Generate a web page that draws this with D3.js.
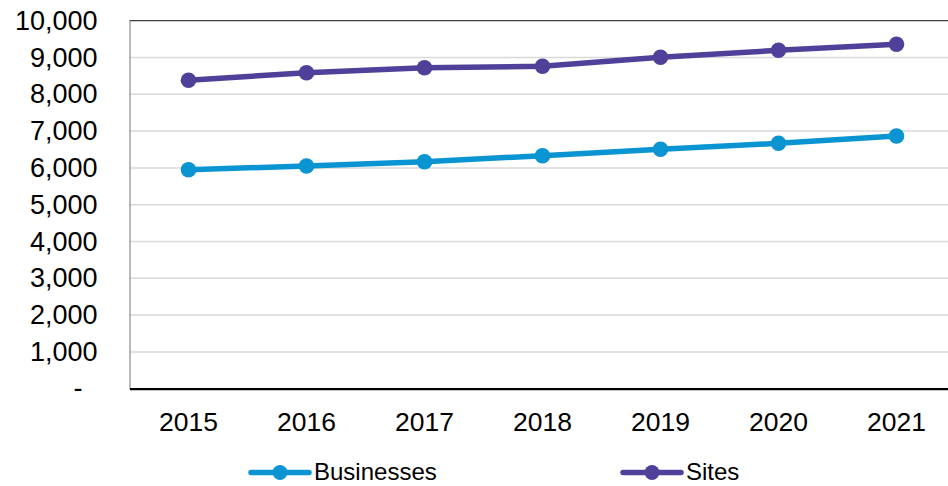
<!DOCTYPE html>
<html>
<head>
<meta charset="utf-8">
<script src="https://cdn.jsdelivr.net/npm/d3@7"></script>
<style>
  body { margin: 0; background: #fff; }
  text { font-family: "Liberation Sans", Arial, Helvetica, sans-serif; fill: #000; }
</style>
</head>
<body>
<div id="chart"></div>
<script>
// data
var years = ["2015", "2016", "2017", "2018", "2019", "2020", "2021"];
var businesses = [5951, 6052, 6168, 6332, 6505, 6668, 6867];
var sites = [8380, 8587, 8723, 8761, 9005, 9195, 9359];
var yTicks = [0, 1000, 2000, 3000, 4000, 5000, 6000, 7000, 8000, 9000, 10000];

var series = [
  { name: "Businesses", values: businesses, color: "#0a94d1" },
  { name: "Sites", values: sites, color: "#50409a" }
];

var W = 948, H = 486;
var margin = { top: 20.7, left: 129.5 };
var plotH = 368;
var step = 118;

var svg = d3.select("#chart").append("svg")
    .attr("width", W)
    .attr("height", H);

var g = svg.append("g")
    .attr("transform", "translate(" + margin.left + "," + margin.top + ")");

var x = d3.scaleBand()
    .domain(years)
    .range([0, step * years.length])
    .paddingInner(0).paddingOuter(0);

var y = d3.scaleLinear()
    .domain([0, 10000])
    .range([plotH, 0]);

// gridlines
g.selectAll(".grid")
  .data(yTicks.filter(function(d) { return d > 0 && d < 10000; }))
  .enter().append("line")
    .attr("x1", 0)
    .attr("x2", step * years.length)
    .attr("y1", function(d) { return y(d); })
    .attr("y2", function(d) { return y(d); })
    .style("stroke", "#d9d9d9")
    .style("stroke-width", 1.5);

// top border
g.append("line")
    .attr("x1", 0).attr("x2", step * years.length)
    .attr("y1", 0).attr("y2", 0)
    .style("stroke", "#404040")
    .style("stroke-width", 1.2);

// y axis
var yAxis = g.append("g")
    .call(d3.axisLeft(y).tickValues(yTicks).tickSize(0).tickPadding(32)
      .tickFormat(function(d) { return d === 0 ? "-" : d3.format(",")(d); }));
yAxis.select(".domain").style("stroke", "#8c8c8c").style("stroke-width", 1.2);
yAxis.selectAll("text")
    .style("font-size", "27px")
    .attr("transform", function(d) { return d === 0 ? "translate(-15,-1)" : null; });

// x axis
var xAxis = g.append("g")
    .attr("transform", "translate(0," + plotH + ")")
    .call(d3.axisBottom(x).tickSize(0).tickPadding(23));
xAxis.select(".domain").style("stroke", "#000").style("stroke-width", 2.2);
xAxis.selectAll("text").style("font-size", "26.5px");

// lines and markers
var line = d3.line()
    .x(function(d, i) { return x(years[i]) + x.bandwidth() / 2; })
    .y(function(d) { return y(d); });

series.forEach(function(s) {
  g.append("path")
      .datum(s.values)
      .attr("d", line)
      .style("fill", "none")
      .style("stroke", s.color)
      .style("stroke-width", 5.5)
      .style("stroke-linejoin", "round");

  g.selectAll(".pt-" + s.name)
    .data(s.values)
    .enter().append("circle")
      .attr("cx", function(d, i) { return x(years[i]) + x.bandwidth() / 2; })
      .attr("cy", function(d) { return y(d); })
      .attr("r", 7.8)
      .style("fill", s.color);
});

// legend
var legendX = [251, 623];
var legend = svg.selectAll(".legendItem")
  .data(series)
  .enter().append("g")
    .attr("transform", function(d, i) { return "translate(" + legendX[i] + ",472.5)"; });

legend.append("line")
    .attr("x1", 0).attr("x2", 58)
    .attr("y1", 0).attr("y2", 0)
    .style("stroke", function(d) { return d.color; })
    .style("stroke-width", 5.5)
    .style("stroke-linecap", "round");

legend.append("circle")
    .attr("cx", 29)
    .attr("r", 7.5)
    .style("fill", function(d) { return d.color; });

legend.append("text")
    .attr("x", 63)
    .attr("y", 7.5)
    .style("font-size", "24px")
    .text(function(d) { return d.name; });
</script>
</body>
</html>
